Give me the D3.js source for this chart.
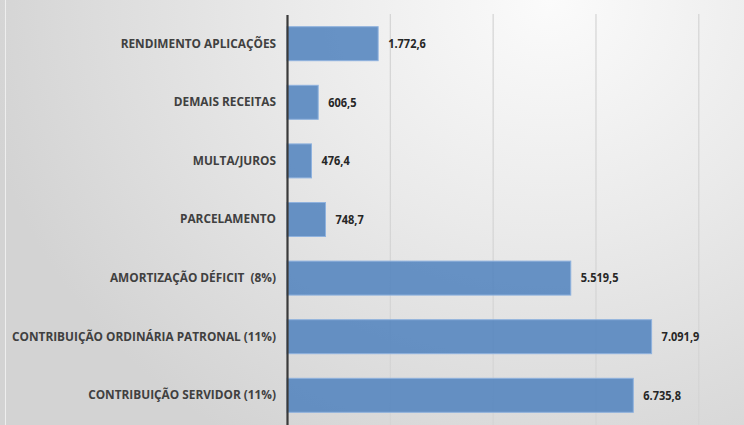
<!DOCTYPE html>
<html><head><meta charset="utf-8">
<script src="https://cdn.jsdelivr.net/npm/d3@7"></script>
<style>html,body{margin:0;padding:0;background:#fff;}svg{display:block;}text{white-space:pre;}</style>
</head><body>
<svg id="chart" width="744" height="425"></svg>
<script>
const categories = [
  "RENDIMENTO APLICAÇÕES",
  "DEMAIS RECEITAS",
  "MULTA/JUROS",
  "PARCELAMENTO",
  "AMORTIZAÇÃO DÉFICIT  (8%)",
  "CONTRIBUIÇÃO ORDINÁRIA PATRONAL (11%)",
  "CONTRIBUIÇÃO SERVIDOR (11%)"
];
const values = [1772.6, 606.5, 476.4, 748.7, 5519.5, 7091.9, 6735.8];
const tickValues = [0, 2000, 4000, 6000, 8000, 10000];

const W = 744, H = 425;
const FONT = "'Open Sans','Noto Sans',sans-serif";
const svg = d3.select("#chart");
const defs = svg.append("defs");

const bg = defs.append("radialGradient").attr("id","bg")
  .attr("gradientUnits","userSpaceOnUse")
  .attr("cx",550).attr("cy",0).attr("r",580)
  .attr("gradientTransform","translate(550,0) scale(1,0.9) translate(-550,0)");
bg.append("stop").attr("offset","0").attr("stop-color","#fbfbfb");
bg.append("stop").attr("offset","0.45").attr("stop-color","#eaeaea");
bg.append("stop").attr("offset","1").attr("stop-color","#d3d3d3");
svg.append("rect").attr("width",W).attr("height",H).attr("fill","url(#bg)");

const gg = defs.append("linearGradient").attr("id","gridg")
  .attr("gradientUnits","userSpaceOnUse").attr("x1",0).attr("y1",14).attr("x2",0).attr("y2",425);
gg.append("stop").attr("offset","0").attr("stop-color","#d4d4d4");
gg.append("stop").attr("offset","1").attr("stop-color","#7a7a7a");

svg.append("line").attr("x1",5.5).attr("x2",5.5).attr("y1",0).attr("y2",H)
  .attr("stroke","#eeeeee").attr("stroke-width",1);

const x0 = 287;
const x = d3.scaleLinear().domain([0, 10000]).range([x0, x0 + 5*(698.3-287)/4]);
const y = d3.scaleBand().domain(categories).range([14.4, 424.6]).paddingInner(0.42).paddingOuter(0.21);

const grid = d3.axisBottom(x).tickValues(tickValues.slice(1)).tickSize(-(425-14)).tickFormat("");
svg.append("g").attr("transform","translate(0,425)").call(grid)
  .call(g => g.select(".domain").remove())
  .call(g => g.selectAll(".tick line").attr("stroke","url(#gridg)").attr("stroke-width",1.2));

svg.append("g").selectAll("rect").data(values).join("rect")
  .attr("x", x(0))
  .attr("y", (d,i) => y(categories[i]))
  .attr("width", d => x(d) - x(0))
  .attr("height", y.bandwidth())
  .attr("fill", "#4f81bd").attr("fill-opacity", 0.85)
  .attr("stroke", "#8fb2de").attr("stroke-width", 1);

// condense helper (imitates a narrow font)
function condense(sel, k) {
  sel.each(function() {
    const len = this.getComputedTextLength();
    d3.select(this).attr("textLength", len * k).attr("lengthAdjust", "spacingAndGlyphs");
  });
}

const yAxis = d3.axisLeft(y).tickSize(0).tickPadding(11);
const ya = svg.append("g").attr("transform",`translate(${x0},0)`).call(yAxis)
  .call(g => g.select(".domain").attr("stroke","#3a3a3a").attr("stroke-width",2.2));
const labs = ya.selectAll(".tick text")
  .attr("font-family",FONT).attr("font-weight","bold").attr("font-size",12).attr("fill","#404040");
let maxLen = 0;
labs.each(function(){ maxLen = Math.max(maxLen, this.getComputedTextLength()); });
condense(labs, 264 / maxLen);

const loc = d3.formatLocale({decimal:",", thousands:".", grouping:[3], currency:["R$",""]});
const fmt = loc.format(",.1f");
const vl = svg.append("g").selectAll("text").data(values).join("text")
  .attr("x", d => x(d) + 10)
  .attr("y", (d,i) => y(categories[i]) + y.bandwidth()/2)
  .attr("dy","0.35em")
  .attr("font-family",FONT).attr("font-weight","bold").attr("font-size",12.5).attr("fill","#262626")
  .text(d => fmt(d));
condense(vl, 0.88);
</script>
</body></html>
